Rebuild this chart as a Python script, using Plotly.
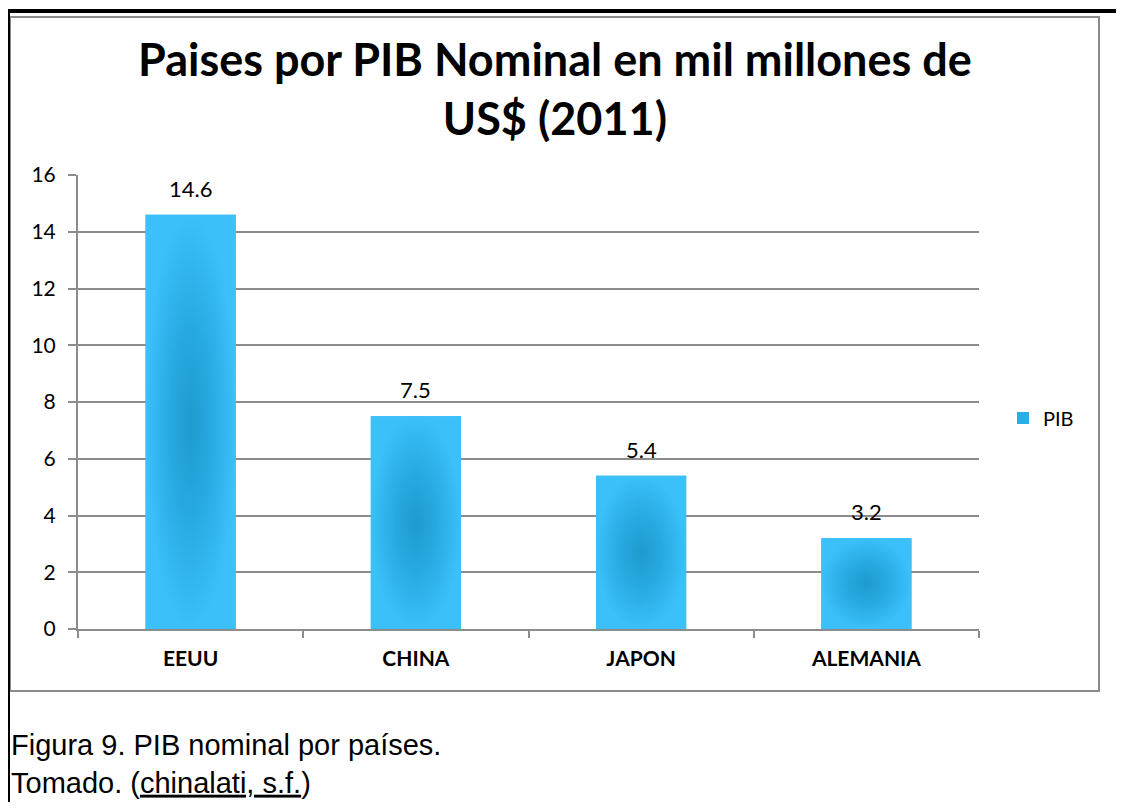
import plotly.graph_objects as go

# datos
paises = ["EEUU", "CHINA", "JAPON", "ALEMANIA"]
pib = [14.6, 7.5, 5.4, 3.2]
y_ticks = [0, 2, 4, 6, 8, 10, 12, 14, 16]

# la página html trae 8px de margen en el body: la figura se achica para
# que todo quepa justo en la ventana de 1124x810
M = 8
W, H = 1124 - 2 * M, 810 - 2 * M
def px(x):
    return (x - M) / W
def py(y):
    return 1 - (y - M) / H

claro = "#3BC0FA"
oscuro = "#1E9BCE"
gris = "#8C8C8C"
fuente = "Lato"

fig = go.Figure()

# barras base
fig.add_trace(go.Bar(
    x=paises, y=pib, name="PIB", width=0.4,
    marker=dict(color="#2AAEE4", line=dict(width=0)),
    hovertemplate="%{x}: %{y}<extra></extra>",
))

# degradado radial sobre cada barra
mitad = 0.2
for i, v in enumerate(pib):
    fig.add_trace(go.Scatter(
        x=[i - mitad, i + mitad, i + mitad, i - mitad, i - mitad],
        y=[0, 0, v, v, 0],
        xaxis="x2", yaxis="y",
        mode="lines", line=dict(width=0),
        fill="toself",
        fillgradient=dict(type="radial",
                          colorscale=[[0, oscuro], [0.45, "#27A9E0"], [1, claro]]),
        showlegend=False, hoverinfo="skip",
    ))

# etiquetas de datos encima de cada barra
etiquetas = [dict(x=p, y=v, xref="x", yref="y", text=str(v), showarrow=False,
                  yanchor="bottom", yshift=11,
                  font=dict(family=fuente, size=22, color="#000000"))
             for p, v in zip(paises, pib)]

titulo = dict(text="<b>Paises por PIB Nominal en mil millones de<br>US$ (2011)</b>",
              xref="paper", yref="paper", x=px(555), y=py(89),
              xanchor="center", yanchor="middle", showarrow=False,
              font=dict(family=fuente, size=45, color="#000000"))

nota = dict(text="Figura 9. PIB nominal por países.<br>Tomado. (<u>chinalati, s.f.</u>)",
            xref="paper", yref="paper", x=px(9), y=py(764),
            xanchor="left", yanchor="middle", align="left", showarrow=False,
            font=dict(family="Liberation Sans", size=29, color="#000000"))

fig.update_layout(
    width=W, height=H,
    margin=dict(l=0, r=0, t=0, b=0, autoexpand=False),
    paper_bgcolor="white", plot_bgcolor="white",
    showlegend=True,
    legend=dict(x=px(1003), y=py(418), xanchor="left", yanchor="middle",
                font=dict(family=fuente, size=20, color="#000000"),
                bgcolor="rgba(0,0,0,0)", itemwidth=30),
    xaxis=dict(domain=[px(78), px(979)], type="category", automargin=False,
               tickson="boundaries", ticks="outside", ticklen=7, tickcolor=gris,
               tickwidth=2,
               showline=True, linecolor=gris, linewidth=2,
               ticklabelstandoff=10,
               tickfont=dict(family=fuente, size=21, color="#000000", weight="bold")),
    xaxis2=dict(domain=[px(78), px(979)], overlaying="x", anchor="y",
                range=[-0.5, 3.5], visible=False, automargin=False),
    yaxis=dict(domain=[py(629), py(175)], range=[0, 16], tickvals=y_ticks,
               automargin=False,
               showgrid=True, gridcolor=gris, gridwidth=2,
               ticks="outside", ticklen=8, tickcolor=gris, tickwidth=2,
               showline=True, linecolor=gris, linewidth=2, zeroline=False,
               ticklabelstandoff=8,
               tickfont=dict(family=fuente, size=21, color="#000000")),
    shapes=[
        # marco del gráfico
        dict(type="rect", xref="paper", yref="paper",
             x0=px(10), x1=px(1099), y0=py(691), y1=py(17),
             line=dict(color=gris, width=2), layer="below"),
        # borde negro exterior
        dict(type="line", xref="paper", yref="paper",
             x0=0, x1=1, y0=py(11), y1=py(11),
             line=dict(color="#000000", width=4)),
        dict(type="line", xref="paper", yref="paper",
             x0=0, x1=0, y0=py(11), y1=0,
             line=dict(color="#000000", width=4)),
    ],
    annotations=[titulo] + etiquetas + [nota],
)

fig.write_html("out.html")
